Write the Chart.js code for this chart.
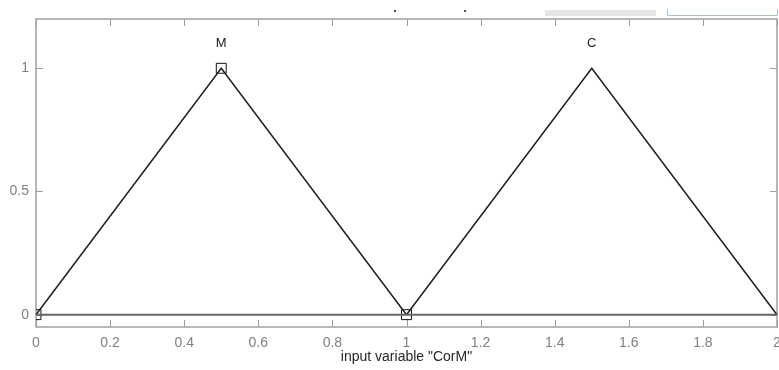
<!DOCTYPE html>
<html>
<head>
<meta charset="utf-8">
<script src="https://cdn.jsdelivr.net/npm/chart.js@4"></script>
<style>
  html, body { margin: 0; padding: 0; background: #fff; }
  #wrap { width: 779px; height: 370px; }
</style>
</head>
<body>
<div id="wrap"><canvas id="mfChart" width="779" height="370"></canvas></div>
<script>
// membership functions for input "CorM"
const mfNames = ["M", "C"];
const mfPeaks = [0.5, 1.5];
const mfM_x = [0, 0.5, 1];
const mfM_y = [0, 1, 0];
const mfC_x = [1, 1.5, 2];
const mfC_y = [0, 1, 0];
const baseX = [0, 2];
const baseY = [0, 0];
// selected MF vertices (square markers)
const markX = [0, 0.5, 1];
const markY = [0, 1, 0];
const xTicks = [0, 0.2, 0.4, 0.6, 0.8, 1, 1.2, 1.4, 1.6, 1.8, 2];
const yTicks = [0, 0.5, 1];
const xTitle = 'input variable "CorM"';

const pts = (xs, ys) => xs.map((x, i) => ({ x: x, y: ys[i] }));

// box + inward ticks, like the matlab axes
const frame = {
  id: "frame",
  beforeDatasetsDraw(chart) {
    const { ctx, chartArea: a, scales } = chart;
    ctx.save();
    ctx.strokeStyle = "#9e9e9e";
    ctx.lineWidth = 1;
    xTicks.forEach(v => {
      const px = Math.round(scales.x.getPixelForValue(v)) + 0.5;
      ctx.beginPath();
      ctx.moveTo(px, a.bottom); ctx.lineTo(px, a.bottom - 7);
      ctx.moveTo(px, a.top); ctx.lineTo(px, a.top + 7);
      ctx.stroke();
    });
    yTicks.forEach(v => {
      const py = Math.round(scales.y.getPixelForValue(v)) + 0.5;
      ctx.beginPath();
      ctx.moveTo(a.left, py); ctx.lineTo(a.left + 7, py);
      ctx.moveTo(a.right, py); ctx.lineTo(a.right - 7, py);
      ctx.stroke();
    });
    ctx.lineWidth = 1.5;
    ctx.strokeStyle = "#a0a0a0";
    ctx.strokeRect(a.left, a.top, a.right - a.left, a.bottom - a.top);
    ctx.restore();
  },
  afterDraw(chart) {
    const { ctx, scales } = chart;
    ctx.save();
    // MF names above the peaks
    ctx.fillStyle = "#222";
    ctx.font = "13px 'Liberation Sans', Arial, sans-serif";
    ctx.textAlign = "center";
    ctx.textBaseline = "middle";
    mfNames.forEach((n, i) => {
      ctx.fillText(n, scales.x.getPixelForValue(mfPeaks[i]), scales.y.getPixelForValue(1) - 25);
    });
    // bits of the gui showing above the axes
    ctx.fillStyle = "#e6e6e6";
    ctx.fillRect(545, 10, 111, 6);
    ctx.strokeStyle = "#a3bedd";
    ctx.lineWidth = 1;
    ctx.beginPath();
    ctx.moveTo(667.5, 9); ctx.lineTo(667.5, 15.5); ctx.lineTo(777.5, 15.5); ctx.lineTo(777.5, 9);
    ctx.stroke();
    ctx.fillStyle = "#555";
    ctx.fillRect(394, 10, 2, 2);
    ctx.fillRect(464, 10, 2, 2);
    ctx.restore();
  }
};

const ctx = document.getElementById("mfChart").getContext("2d");
new Chart(ctx, {
  type: "scatter",
  data: {
    datasets: [
      {
        data: pts(baseX, baseY),
        showLine: true,
        borderColor: "#666666",
        borderWidth: 2,
        pointRadius: 0,
        clip: 2,
      },
      {
        data: pts(mfM_x, mfM_y),
        showLine: true,
        borderColor: "#1e1e1e",
        borderWidth: 1.5,
        pointRadius: 0,
        clip: 2,
      },
      {
        data: pts(mfC_x, mfC_y),
        showLine: true,
        borderColor: "#1e1e1e",
        borderWidth: 1.5,
        pointRadius: 0,
        clip: 2,
      },
      {
        data: pts(markX, markY),
        showLine: false,
        pointStyle: "rect",
        pointRadius: 7,
        pointBackgroundColor: "rgba(0,0,0,0)",
        pointBorderColor: "#111",
        pointBorderWidth: 1,
        clip: 0,
      },
    ],
  },
  options: {
    responsive: false,
    animation: false,
    events: [],
    layout: { autoPadding: false, padding: { top: 19, right: 2, left: 0, bottom: 0 } },
    plugins: { legend: { display: false }, tooltip: { enabled: false } },
    scales: {
      x: {
        type: "linear",
        min: 0,
        max: 2,
        afterBuildTicks: s => { s.ticks = xTicks.map(v => ({ value: v })); },
        afterFit: s => { s.height = 43; s.paddingLeft = 0; s.paddingRight = 0; },
        grid: { display: false, drawTicks: false },
        border: { display: false },
        ticks: {
          color: "#808080",
          padding: 8,
          maxRotation: 0,
          autoSkip: false,
          font: { family: "'Liberation Sans', Arial, sans-serif", size: 14 },
          callback: v => String(v),
        },
        title: {
          display: true,
          text: xTitle,
          color: "#262626",
          font: { family: "'Liberation Sans', Arial, sans-serif", size: 14 },
          padding: { top: 0, bottom: 4 },
        },
      },
      y: {
        type: "linear",
        min: -0.05,
        max: 1.2,
        afterBuildTicks: s => { s.ticks = yTicks.map(v => ({ value: v })); },
        afterFit: s => { s.width = 36; s.paddingTop = 0; s.paddingBottom = 0; },
        grid: { display: false, drawTicks: false },
        border: { display: false },
        ticks: {
          color: "#808080",
          padding: 7,
          font: { family: "'Liberation Sans', Arial, sans-serif", size: 14 },
          callback: v => String(v),
        },
      },
    },
  },
  plugins: [frame],
});
</script>
</body>
</html>
